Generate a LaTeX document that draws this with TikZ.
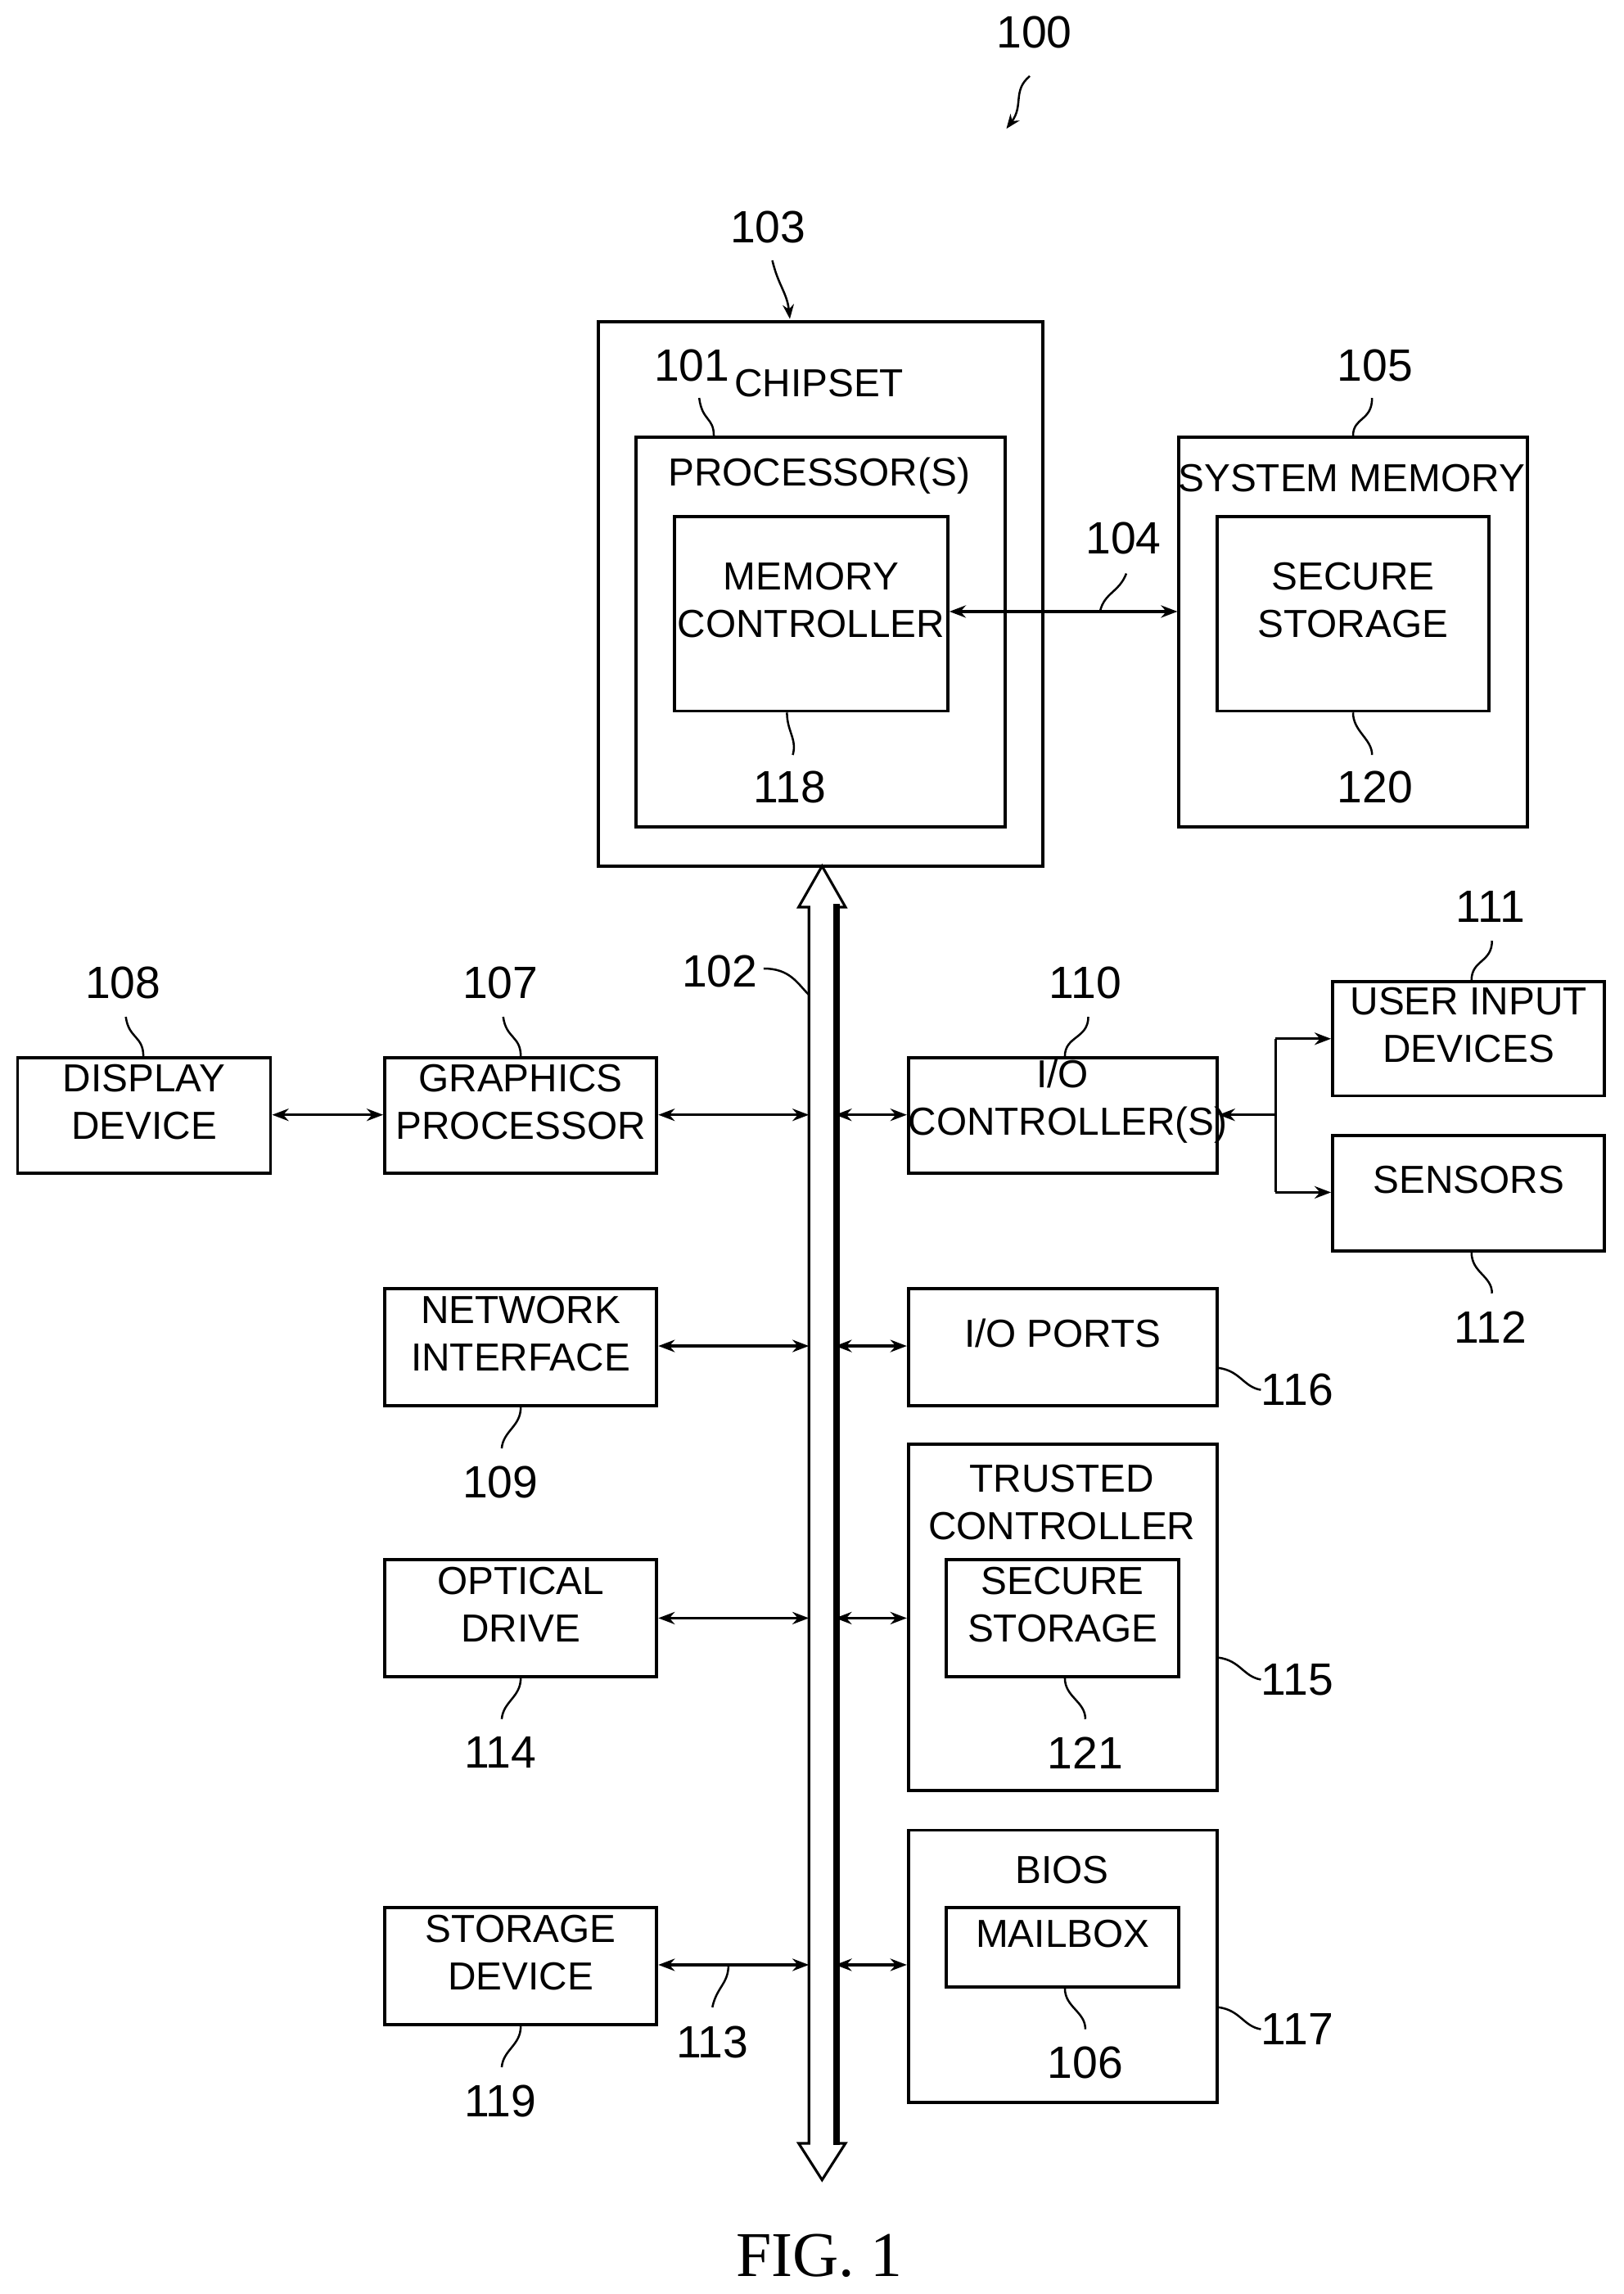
\documentclass[tikz,border=0pt]{standalone}
\usepackage{fontspec}
\setmainfont{Liberation Sans}
\newfontfamily\figfont{Liberation Serif}
\usetikzlibrary{fit,arrows.meta}
\begin{document}
\begin{tikzpicture}[x=0.05cm,y=-0.05cm,
  box/.style={draw,line width=3pt,inner sep=0pt,align=center,font=\fontsize{38}{46}\selectfont},
  txt/.style={inner sep=0pt,align=center,font=\fontsize{38}{46}\selectfont},
  num/.style={inner sep=0pt,font=\fontsize{44}{50}\selectfont},
  lead/.style={line width=2pt},
  conn/.style={line width=2.5pt,{Stealth[length=16pt,width=12pt]}-{Stealth[length=16pt,width=12pt]}},
  one/.style={line width=2.5pt,-{Stealth[length=16pt,width=12pt]}}]
\useasboundingbox (0,0) rectangle (1110,1568);
% 100
\node[num] (n100) at (707,22) {100};
\draw[lead,-{Stealth[length=14pt,width=11pt]}] (704,52) .. controls (692,62) and (700,72) .. (688,88);
% chipset
\node[box,fit={(409,220) (713,592)}] (chip) {};
\node[txt] (chipt) at (560,262) {CHIPSET};
\node[num] (n103) at (525,155) {103};
\draw[lead,-{Stealth[length=14pt,width=11pt]}] (528,178) .. controls (532,195) and (538,200) .. (540,218);
\node[box,fit={(435,299) (687,565)}] (proc) {};
\node[txt] (proct) at (560,325) {PROCESSOR(S)};
\node[num] (n101) at (473,250) {101};
\draw[lead] (478,272) .. controls (480,288) and (488,285) .. (488,298);
\node[box,fit={(461,353) (648,486)}] (mc) {MEMORY\\CONTROLLER};
\node[num] (n118) at (540,538) {118};
\draw[lead] (538,487) .. controls (538,500) and (545,505) .. (542,516);
% system memory
\node[box,fit={(806,299) (1044,565)}] (sm) {};
\node[txt] (smt) at (924,327) {SYSTEM MEMORY};
\node[box,fit={(832,353) (1018,486)}] (ss1) {SECURE\\STORAGE};
\node[num] (n120) at (940,538) {120};
\draw[lead] (925,487) .. controls (925,500) and (938,505) .. (938,516);
\node[num] (n105) at (940,250) {105};
\draw[lead] (938,272) .. controls (938,288) and (925,285) .. (925,298);
\draw[conn] (mc.east|-0,418) -- (sm.west|-0,418);
\node[num] (n104) at (768,368) {104};
\draw[lead] (770,392) .. controls (765,405) and (755,405) .. (752,418);
% bus
\coordinate (bl) at (553,0); \coordinate (br) at (571,0);
\draw[line width=2.5pt,fill=white] (553,620) -- (546,620) -- (562,592) -- (578,620) -- (571,620) -- (571,1465) -- (578,1465) -- (562,1490) -- (546,1465) -- (553,1465) -- cycle;
\draw[line width=6pt] (572,618) -- (572,1466);
\node[num] (n102) at (492,664) {102};
\draw[lead] (522,662) .. controls (540,662) and (545,672) .. (553,680);
% left column
\node[box,fit={(12,723) (185,802)}] (disp) {DISPLAY\\DEVICE};
\node[num] (n108) at (84,672) {108};
\draw[lead] (86,695) .. controls (88,710) and (98,708) .. (98,722);
\node[box,fit={(263,723) (449,802)}] (gp) {GRAPHICS\\PROCESSOR};
\node[num] (n107) at (342,672) {107};
\draw[lead] (344,695) .. controls (346,710) and (356,708) .. (356,722);
\draw[conn] (disp.east|-0,762) -- (gp.west|-0,762);
\draw[conn] (gp.east|-0,762) -- (bl|-0,762);
\node[box,fit={(263,881) (449,961)}] (ni) {NETWORK\\INTERFACE};
\node[num] (n109) at (342,1013) {109};
\draw[lead] (356,962) .. controls (356,975) and (344,978) .. (343,990);
\draw[conn] (ni.east|-0,920) -- (bl|-0,920);
\node[box,fit={(263,1066) (449,1146)}] (od) {OPTICAL\\DRIVE};
\node[num] (n114) at (342,1198) {114};
\draw[lead] (356,1147) .. controls (356,1160) and (344,1163) .. (343,1175);
\draw[conn] (od.east|-0,1106) -- (bl|-0,1106);
\node[box,fit={(263,1304) (449,1384)}] (sd) {STORAGE\\DEVICE};
\node[num] (n119) at (342,1436) {119};
\draw[lead] (356,1385) .. controls (356,1398) and (344,1401) .. (343,1413);
\draw[conn] (sd.east|-0,1343) -- (bl|-0,1343);
\node[num] (n113) at (487,1396) {113};
\draw[lead] (487,1372) .. controls (490,1358) and (498,1356) .. (498,1343);
% right column
\node[box,fit={(621,723) (832,802)}] (io) {I/O\\CONTROLLER(S)};
\node[num] (n110) at (742,672) {110};
\draw[lead] (744,695) .. controls (744,710) and (728,708) .. (728,722);
\draw[conn] (br|-0,762) -- (io.west|-0,762);
\node[box,fit={(911,671) (1097,749)}] (ui) {USER INPUT\\DEVICES};
\node[num] (n111) at (1019,620) {111};
\draw[lead] (1020,643) .. controls (1020,658) and (1006,656) .. (1006,670);
\node[box,fit={(911,776) (1097,855)}] (sen) {SENSORS};
\node[num] (n112) at (1019,907) {112};
\draw[lead] (1006,856) .. controls (1006,870) and (1020,872) .. (1020,884);
\coordinate (j) at (872,762);
\draw[one] (j) -- (io.east|-0,762);
\draw[line width=2.5pt] (872,710) -- (872,815);
\draw[one] (872,710) -- (ui.west|-0,710);
\draw[one] (872,815) -- (sen.west|-0,815);
\node[box,fit={(621,881) (832,961)}] (iop) {I/O PORTS};
\draw[conn] (br|-0,920) -- (iop.west|-0,920);
\node[num,anchor=west] (n116) at (862,950) {116};
\draw[lead] (833,935) .. controls (848,937) and (850,948) .. (862,950);
\node[box,fit={(621,987) (832,1224)}] (tc) {};
\node[txt] (tct) at (726,1027) {TRUSTED\\CONTROLLER};
\node[box,fit={(647,1066) (806,1146)}] (ss2) {SECURE\\STORAGE};
\node[num] (n121) at (742,1198) {121};
\draw[lead] (728,1147) .. controls (728,1160) and (742,1163) .. (742,1175);
\node[num,anchor=west] (n115) at (862,1148) {115};
\draw[lead] (833,1133) .. controls (848,1135) and (850,1146) .. (862,1148);
\draw[conn] (br|-0,1106) -- (tc.west|-0,1106);
\node[box,fit={(621,1251) (832,1437)}] (bios) {};
\node[txt] (biost) at (726,1278) {BIOS};
\node[box,fit={(647,1304) (806,1358)}] (mb) {MAILBOX};
\node[num] (n106) at (742,1410) {106};
\draw[lead] (728,1359) .. controls (728,1372) and (742,1375) .. (742,1387);
\node[num,anchor=west] (n117) at (862,1387) {117};
\draw[lead] (833,1372) .. controls (848,1374) and (850,1385) .. (862,1387);
\draw[conn] (br|-0,1343) -- (bios.west|-0,1343);
\node[inner sep=0pt,font=\figfont\fontsize{62}{70}\selectfont] (fig) at (560,1542) {FIG. 1};
\end{tikzpicture}
\end{document}
